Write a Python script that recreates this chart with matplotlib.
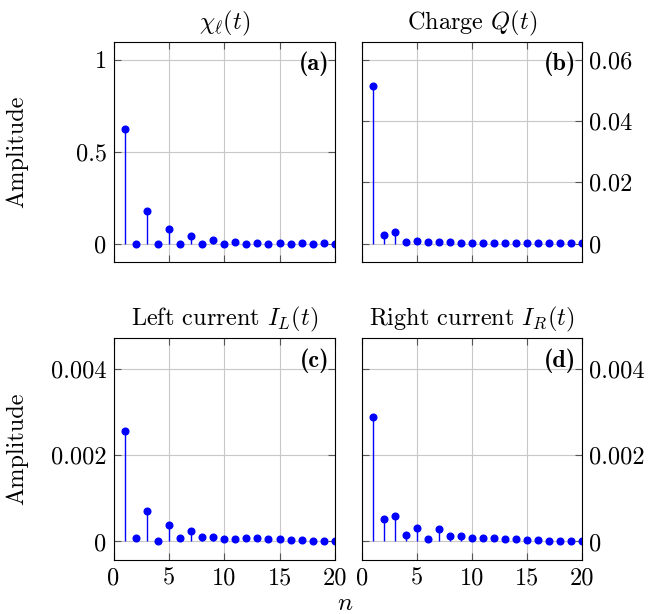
import numpy as np
import matplotlib
matplotlib.use("Agg")
import matplotlib.pyplot as plt

plt.rcParams['font.family'] = ['cmr10']
plt.rcParams['mathtext.fontset'] = 'cm'
plt.rcParams['axes.unicode_minus'] = False
plt.rcParams['font.size'] = 17.5

n = np.arange(1, 21)

chi = [0.625, 0, 0.18, 0, 0.082, 0, 0.04, 0, 0.018, 0,
       0.009, 0, 0.005, 0, 0.003, 0, 0.002, 0, 0.001, 0]
charge = [0.0516, 0.0029, 0.0038, 0.0006, 0.001, 0.0004, 0.0006, 0.0004, 0.0003, 0.0003,
          0.0002, 0.0002, 0.0002, 0.0002, 0.0002, 0.0002, 0.0001, 0.0001, 0.0001, 0.0001]
cur_left = [0.00255, 0.00009, 0.00071, 0.00002, 0.00039, 0.00009, 0.00025, 0.0001, 0.0001, 0.00006,
            0.00006, 0.00007, 0.00008, 0.00005, 0.00005, 0.00003, 0.00003, 0.00001, 0.00001, 0.00001]
cur_right = [0.00287, 0.00053, 0.00058, 0.00015, 0.00031, 0.00006, 0.00029, 0.00013, 0.00012, 0.00007,
             0.00009, 0.00007, 0.00006, 0.00005, 0.00003, 0.00003, 0.00001, 0.00001, 0.00001, 0.0]

titles = [r'$\chi_\ell(t)$', r'Charge $Q(t)$', r'Left current $I_L(t)$', r'Right current $I_R(t)$']
tags = ['(a)', '(b)', '(c)', '(d)']
series = [chi, charge, cur_left, cur_right]
ylims = [(-0.1, 1.1), (-0.006, 0.066), (-0.00043, 0.0047), (-0.00043, 0.0047)]
yticks = [[0, 0.5, 1], [0, 0.02, 0.04, 0.06], [0, 0.002, 0.004], [0, 0.002, 0.004]]
ytlabels = [['0', '0.5', '1'], ['0', '0.02', '0.04', '0.06'],
            ['0', '0.002', '0.004'], ['0', '0.002', '0.004']]

fig = plt.figure(figsize=(6.49, 6.14), dpi=100)
boxes = [[0.175, 0.5733, 0.341, 0.359], [0.5573, 0.5733, 0.339, 0.359],
         [0.175, 0.0879, 0.341, 0.361], [0.5573, 0.0879, 0.339, 0.361]]

for i in range(4):
    ax = fig.add_axes(boxes[i])
    ml, sl, bl = ax.stem(n, series[i], basefmt=' ')
    plt.setp(ml, color='blue', markersize=4.8)
    plt.setp(sl, color='blue', linewidth=1.0)
    ax.set_xlim(0, 20)
    ax.set_ylim(*ylims[i])
    ax.set_xticks([0, 5, 10, 15, 20])
    ax.set_yticks(yticks[i])
    ax.set_yticklabels(ytlabels[i])
    ax.grid(True, color='#c8c8c8', linewidth=0.8)
    ax.set_axisbelow(True)
    ax.tick_params(direction='in', length=5, color='#555555', pad=5, top=True, right=True)
    ax.set_title(titles[i], fontsize=17.5, pad=9)
    ax.text(0.975, 0.9, tags[i], transform=ax.transAxes, ha='right', va='center',
            family='cmb10', fontsize=17.5)
    if i < 2:
        ax.set_xticklabels([])
    if i % 2 == 1:
        ax.yaxis.tick_right()
        ax.tick_params(direction='in', length=5, color='#555555', left=True, right=True)
    else:
        ax.set_ylabel('Amplitude', fontsize=17.5)
        ax.yaxis.set_label_coords(-0.386, 0.5)
    for s in ax.spines.values():
        s.set_linewidth(0.8)

fig.text(0.532, 0.006, r'$n$', ha='center', fontsize=18)

plt.savefig('out.png', dpi=100)
